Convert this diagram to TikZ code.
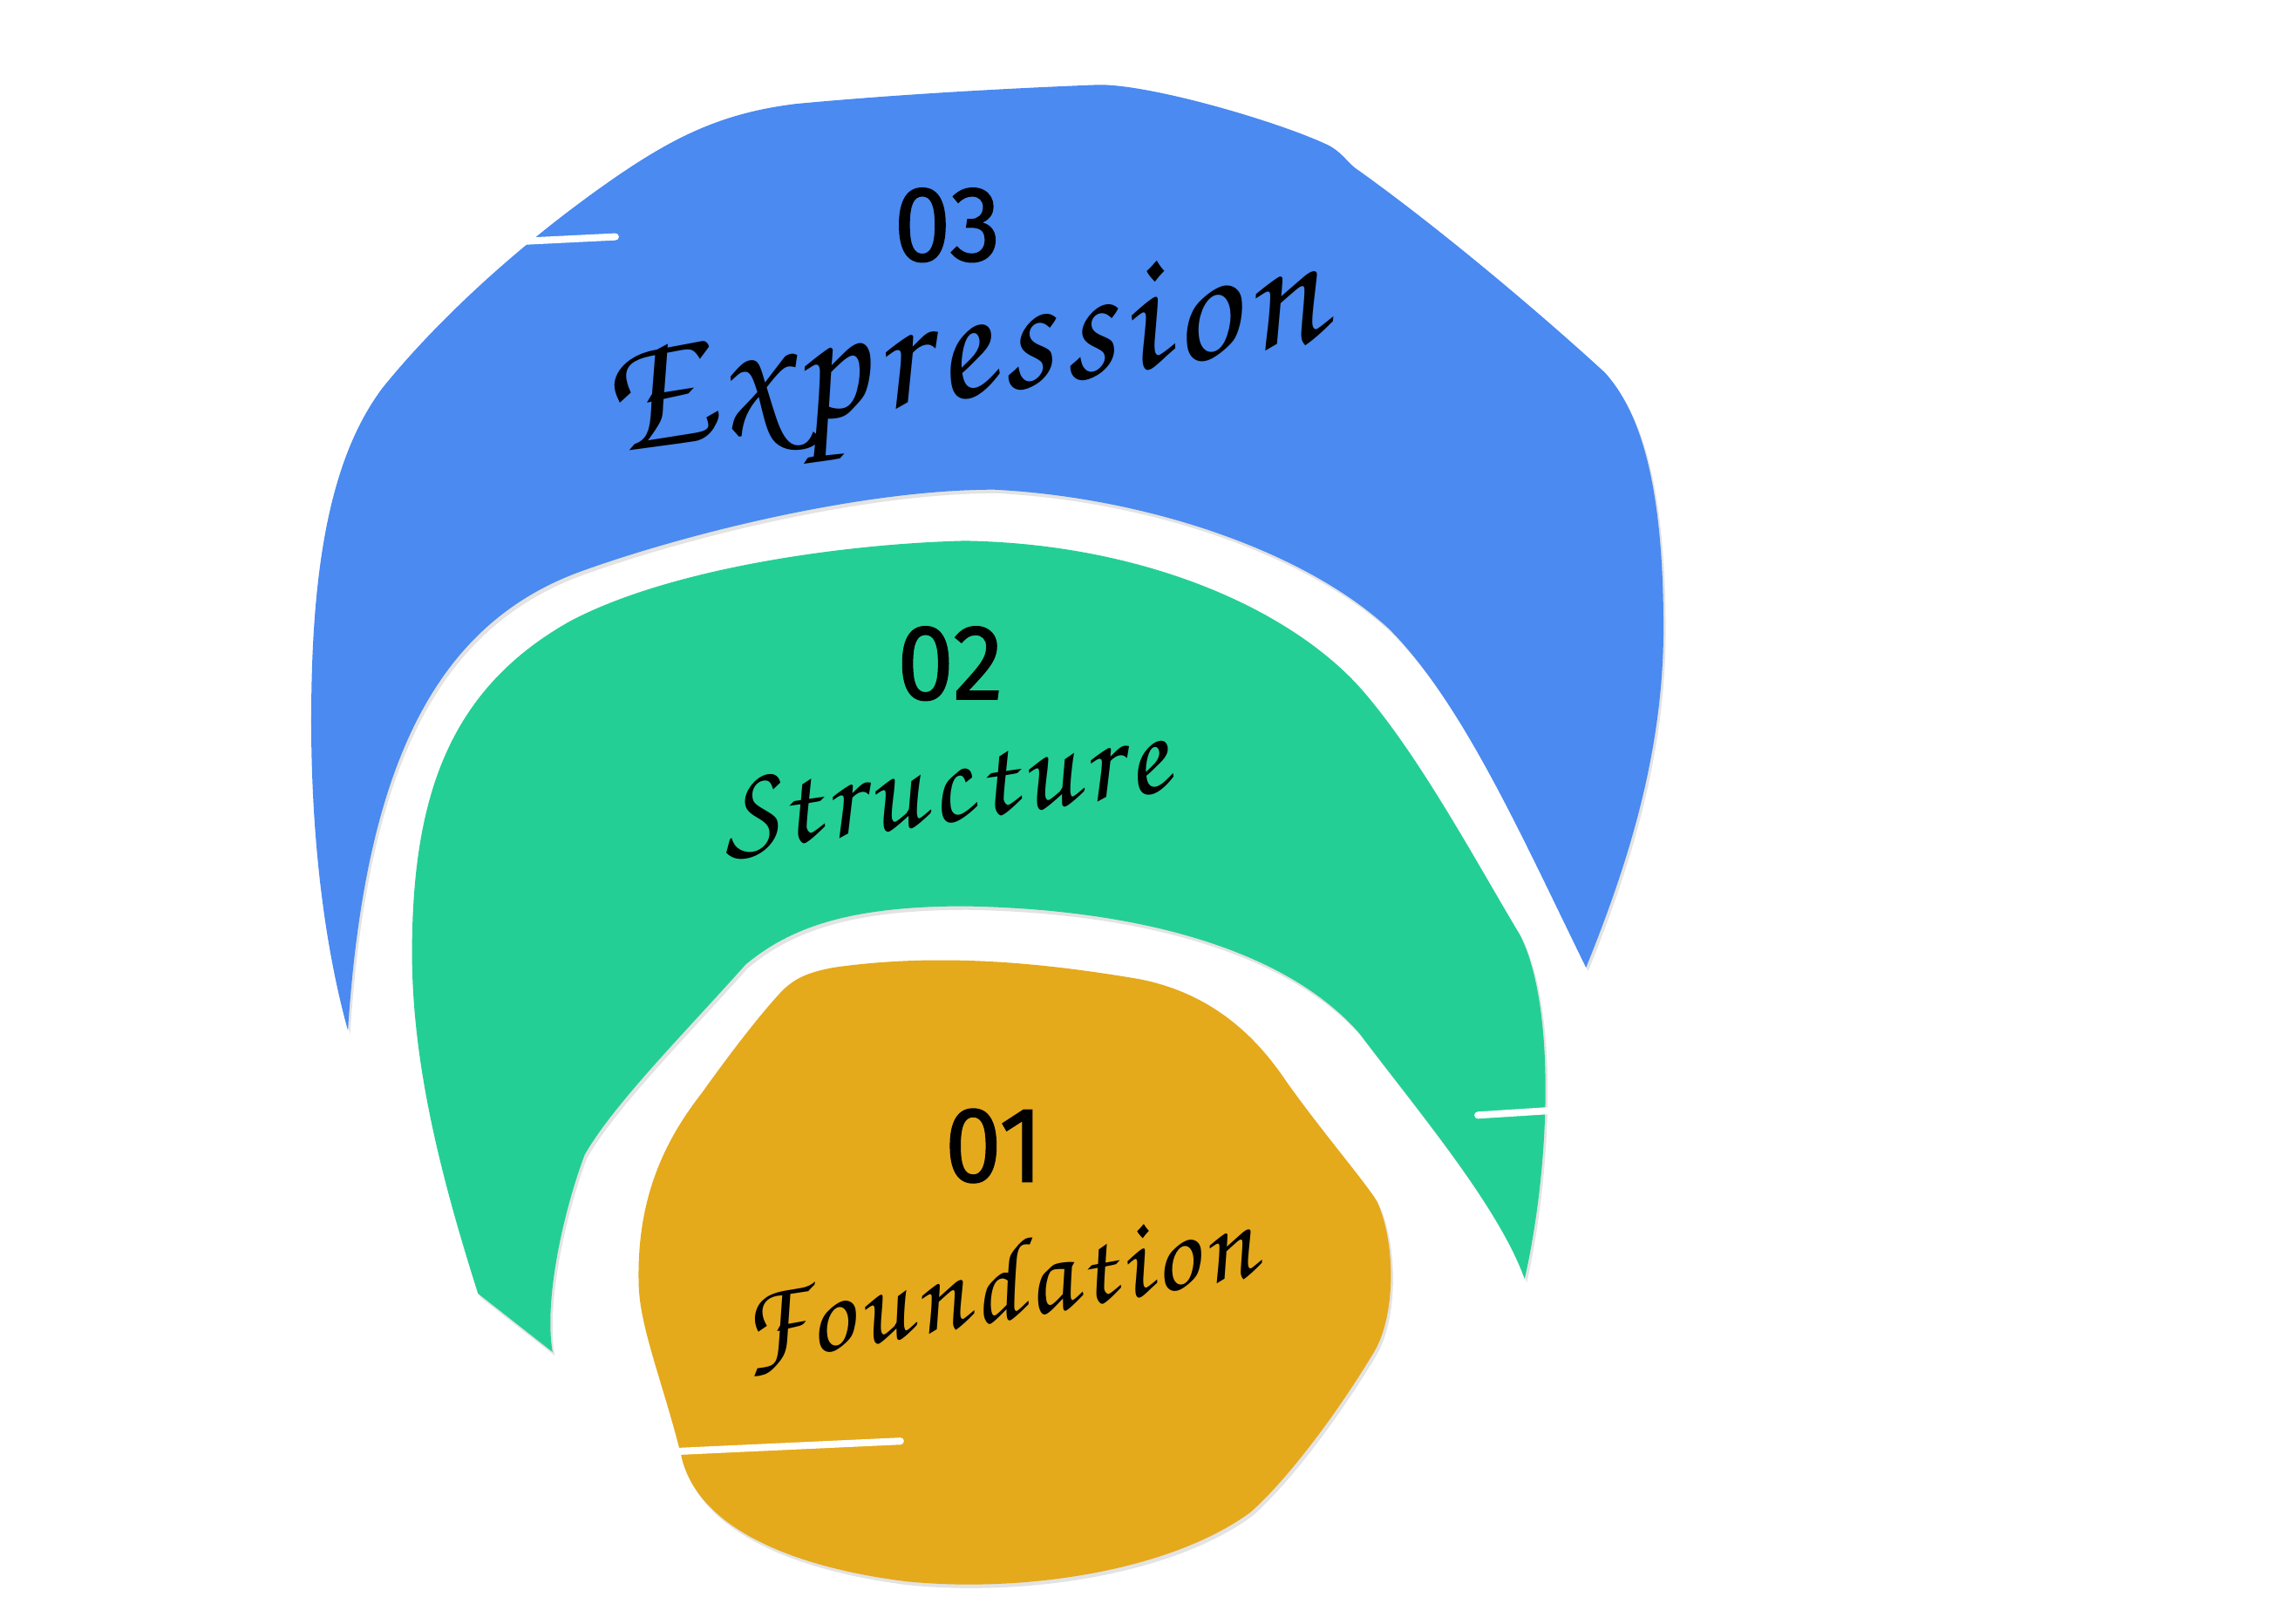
\documentclass[tikz,border=0pt]{standalone}
\usepackage{fontspec}
\setmainfont{Fira Sans}
\newfontfamily\scriptf{TeX Gyre Chorus}[LetterSpace=5]
\newfontfamily\digitf{Fira Sans}[FakeBold=1.2]
\definecolor{cblue}{HTML}{4A8AF1}
\definecolor{cgreen}{HTML}{24CF96}
\definecolor{cyellow}{HTML}{E5A91C}
\newcommand{\bluepath}{%
  (238,705) .. controls (220,640) and (212,560) .. (213,480)
  .. controls (214,380) and (228,310) .. (262,265)
  .. controls (305,212) and (365,160) .. (420,122)
  .. controls (462,93) and (495,77) .. (545,71)
  .. controls (620,64) and (700,60) .. (752,58)
  .. controls (790,58) and (880,85) .. (910,100)
  .. controls (920,106) and (922,112) .. (930,117)
  .. controls (990,160) and (1060,220) .. (1098,255)
  .. controls (1125,285) and (1138,340) .. (1138,430)
  .. controls (1138,520) and (1110,600) .. (1085,662)
  .. controls (1040,570) and (1000,480) .. (950,430)
  .. controls (890,375) and (780,340) .. (680,335)
  .. controls (590,335) and (470,365) .. (400,390)
  .. controls (300,425) and (250,520) .. (238,705) -- cycle}
\newcommand{\greenpath}{%
  (327,885) .. controls (300,800) and (280,720) .. (282,640)
  .. controls (284,540) and (310,470) .. (390,425)
  .. controls (460,388) and (580,372) .. (660,370)
  .. controls (780,372) and (880,415) .. (930,470)
  .. controls (970,515) and (1010,590) .. (1040,640)
  .. controls (1065,690) and (1060,800) .. (1043,875)
  .. controls (1025,825) and (970,760) .. (930,707)
  .. controls (880,650) and (780,622) .. (660,620)
  .. controls (580,620) and (540,635) .. (510,660)
  .. controls (470,705) and (420,755) .. (400,790)
  .. controls (385,830) and (372,890) .. (378,925) -- cycle}
\newcommand{\yellowpath}{%
  (570,662) .. controls (640,652) and (710,658) .. (780,670)
  .. controls (830,680) and (860,710) .. (880,740)
  .. controls (905,775) and (935,810) .. (942,822)
  .. controls (955,850) and (955,900) .. (940,925)
  .. controls (910,975) and (875,1018) .. (855,1035)
  .. controls (800,1075) and (700,1090) .. (620,1082)
  .. controls (540,1072) and (480,1045) .. (467,1000)
  .. controls (455,950) and (438,910) .. (437,880)
  .. controls (435,820) and (455,780) .. (480,748)
  .. controls (500,720) and (520,694) .. (535,678)
  .. controls (545,668) and (555,665) .. (570,662) -- cycle}
\tikzset{
  shade/.style={fill=black,opacity=0.11},
  wordlabel/.style={text=black,inner sep=0pt,font=\scriptf\fontsize{40}{40}\selectfont},
  numlabel/.style={text=black,inner sep=0pt,font=\digitf\fontsize{35}{35}\selectfont},
  whitestroke/.style={draw=white,line width=2.3pt,line cap=round}
}
\begin{document}
\begin{tikzpicture}[x=0.016767cm,y=-0.016767cm]
\useasboundingbox (0,0) rectangle (1568,1111);
\fill[white] (0,0) rectangle (1568,1111);
% shapes with soft shadows
\fill[shade,shift={(1.5,2.5)}] \bluepath;
\fill[cblue] \bluepath;
\fill[shade,shift={(1.5,2.5)}] \greenpath;
\fill[cgreen] \greenpath;
\fill[shade,shift={(1.5,2.5)}] \yellowpath;
\fill[cyellow] \yellowpath;
% white marker strokes
\coordinate (s1a) at (360,165); \coordinate (s1b) at (421,162);
\coordinate (s2a) at (1011,763); \coordinate (s2b) at (1058,760);
\coordinate (s3a) at (464,993); \coordinate (s3b) at (616,986);
\draw[whitestroke] (s1a) -- (s1b);
\draw[whitestroke] (s2a) -- (s2b);
\draw[whitestroke] (s3a) -- (s3b);
% labels
\node[numlabel,xscale=0.95] (n3) at (648,154) {03};
\node[wordlabel,font=\scriptf\fontsize{55}{55}\selectfont,rotate=9] (w3) at (659,250) {Expression};
\node[numlabel,xscale=0.95] (n2) at (650,454) {02};
\node[wordlabel,rotate=8] (w2) at (646,541) {Structure};
\node[numlabel,xscale=0.95] (n1) at (680,784) {01};
\node[wordlabel,font=\scriptf\fontsize{37}{37}\selectfont,rotate=10] (w1) at (682,882) {Foundation};
\end{tikzpicture}
\end{document}
